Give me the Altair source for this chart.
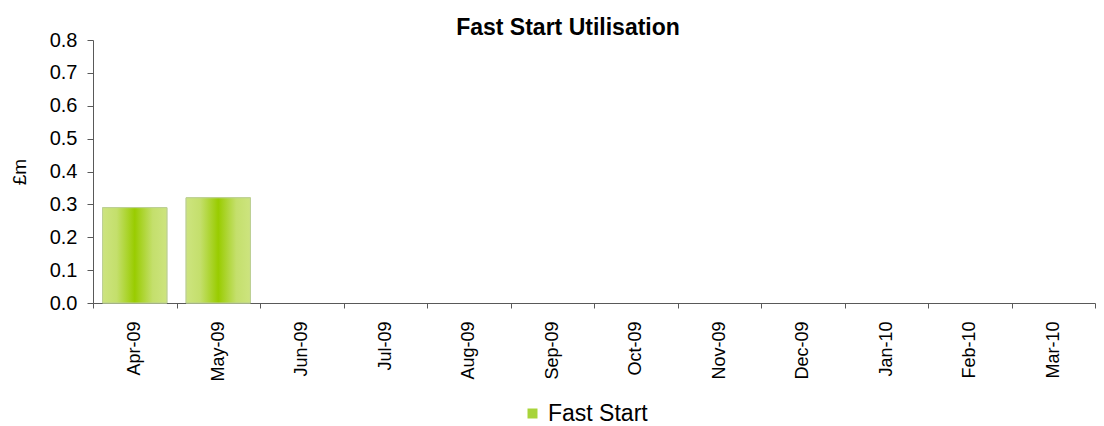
import altair as alt
import pandas as pd

months = ["Apr-09", "May-09", "Jun-09", "Jul-09", "Aug-09", "Sep-09",
          "Oct-09", "Nov-09", "Dec-09", "Jan-10", "Feb-10", "Mar-10"]
values = [0.29, 0.32, None, None, None, None, None, None, None, None, None, None]
series_name = "Fast Start"
y_ticks = [0.0, 0.1, 0.2, 0.3, 0.4, 0.5, 0.6, 0.7, 0.8]
chart_title = "Fast Start Utilisation"
y_title = "£m"

df = pd.DataFrame({"month": months, "value": values, "series": [series_name] * len(months)})
df = df.dropna()

FONT = "Liberation Sans"
AXIS_COLOR = "#595959"

x_enc = alt.X(
    "month:N",
    sort=months,
    scale=alt.Scale(domain=months, paddingInner=0, paddingOuter=0),
    axis=alt.Axis(
        title=None, labelAngle=-90, labelFontSize=18, labelFont=FONT, labelColor="black",
        tickBand="extent", tickSize=5, tickColor=AXIS_COLOR, domainColor=AXIS_COLOR,
        labelPadding=13, grid=False,
    ),
)
y_enc = alt.Y(
    "value:Q",
    scale=alt.Scale(domain=[0, 0.8], nice=False),
    axis=alt.Axis(
        values=y_ticks, format=".1f", title=y_title, titleFontSize=19, titleFont=FONT,
        titleFontWeight="normal", titleColor="black", titlePadding=20,
        labelFontSize=20, labelFont=FONT, labelColor="black", labelPadding=10,
        tickSize=6, tickColor=AXIS_COLOR, domainColor=AXIS_COLOR, grid=False,
    ),
)

base = alt.Chart(df).encode(x=x_enc, y=y_enc)

BAR_WIDTH = alt.RelativeBandSize(0.77)

legend_layer = base.mark_bar(stroke="#bccf95", strokeWidth=1, width=BAR_WIDTH).encode(
    color=alt.Color(
        "series:N",
        scale=alt.Scale(range=["#a8d43a"]),
        legend=alt.Legend(
            title=None, orient="none", legendX=428, legendY=362, padding=0,
            symbolType="square", symbolSize=100, symbolStrokeWidth=0,
            labelFontSize=23, labelFont=FONT, labelColor="black", labelOffset=4,
        ),
    )
)

grad_layer = base.mark_bar(
    color=alt.Gradient(
        gradient="linear",
        stops=[
            alt.GradientStop(color="#cde47f", offset=0),
            alt.GradientStop(color="#c4df6c", offset=0.22),
            alt.GradientStop(color="#99cc00", offset=0.5),
            alt.GradientStop(color="#c4df6c", offset=0.78),
            alt.GradientStop(color="#cde47f", offset=1),
        ],
        x1=0, x2=1, y1=0, y2=0,
    ),
    stroke="#bccf95",
    strokeWidth=1,
    width=BAR_WIDTH,
)

chart = alt.layer(legend_layer, grad_layer).properties(
    width=1002,
    height=263,
    title=alt.TitleParams(
        chart_title, fontSize=23, font=FONT, fontWeight="bold", color="black",
        anchor="middle", dx=-26, dy=16, offset=6,
    ),
    autosize=alt.AutoSizeParams(type="none"),
    padding={"left": 85, "top": 32, "right": 1, "bottom": 122},
).configure_view(stroke=None)

chart.save("out.html", embed_options={"renderer": "svg", "actions": False})
